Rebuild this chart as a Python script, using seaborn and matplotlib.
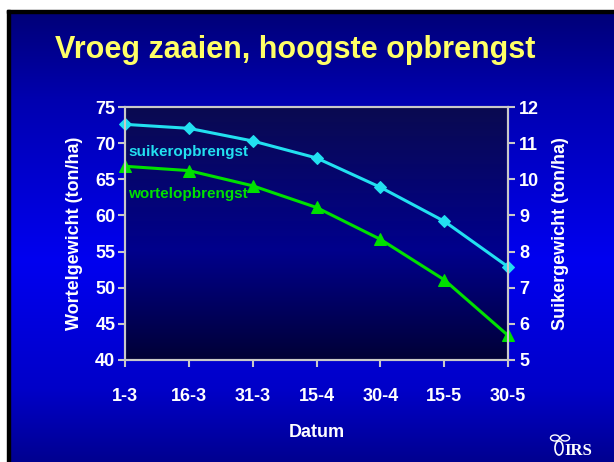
import numpy as np
import pandas as pd
import matplotlib
matplotlib.use("Agg")
import matplotlib.pyplot as plt
import seaborn as sns
from matplotlib.patches import Rectangle, Ellipse
from matplotlib.colors import to_rgb

# ---- data ----
datum = ["1-3", "16-3", "31-3", "15-4", "30-4", "15-5", "30-5"]
wortel = [66.8, 66.2, 64.1, 61.1, 56.7, 51.1, 43.4]          # left axis, ton/ha
suiker = [11.52, 11.41, 11.06, 10.59, 9.78, 8.84, 7.58]      # right axis, ton/ha
left_ticks = [40, 45, 50, 55, 60, 65, 70, 75]
right_ticks = [5, 6, 7, 8, 9, 10, 11, 12]

df = pd.DataFrame({"pos": range(len(datum)), "datum": datum,
                   "wortel": wortel, "suiker": suiker})

sns.set_theme(style="white")
plt.rcParams['font.family'] = ['Liberation Sans', 'DejaVu Sans']
plt.rcParams['font.weight'] = 'bold'

W, H = 614, 462
fig = plt.figure(figsize=(W / 100, H / 100), dpi=100)
fig.patch.set_facecolor('white')

bg = fig.add_axes([0, 0, 1, 1])
bg.set_xlim(0, W)
bg.set_ylim(H, 0)
bg.axis('off')


def vgrad(ax, x0, x1, y0, y1, stops):
    ys = np.linspace(y0, y1, 300)
    sy = [s[0] for s in stops]
    cols = np.array([to_rgb(s[1]) for s in stops])
    arr = np.stack([np.interp(ys, sy, cols[:, i]) for i in range(3)], axis=-1)
    arr = arr[:, None, :]
    ax.imshow(arr, extent=(x0, x1, y1, y0), aspect='auto',
              interpolation='bilinear', origin='upper', zorder=0)


# slide background
vgrad(bg, 10, W, 13, H, [(13, '#000078'), (100, '#0000B0'), (260, '#0000F0'),
                         (390, '#0000C8'), (462, '#000090')])
# black frame bars
bg.add_patch(Rectangle((7, 10), W - 7, 3, color='black', zorder=2))
bg.add_patch(Rectangle((7, 10), 3, H - 10, color='black', zorder=2))
# plot area background
vgrad(bg, 125, 508, 107, 360, [(107, '#0A0A50'), (250, '#00008C'), (360, '#000036')])
bg.set_xlim(0, W)
bg.set_ylim(H, 0)

# IRS logo (simplified)
bg.add_patch(Ellipse((559, 448), 8, 14, fill=False, ec='white', lw=1.2, zorder=3))
bg.add_patch(Ellipse((555, 438), 9, 6, fill=False, ec='white', lw=1.0, zorder=3))
bg.add_patch(Ellipse((565, 438), 9, 6, fill=False, ec='white', lw=1.0, zorder=3))
fig.text(564 / W, 1 - 455 / H, "IRS", family=['Liberation Serif', 'DejaVu Serif'],
         fontsize=12, fontweight='bold', color='white', ha='left', va='baseline')

# ---- main axes ----
ax = fig.add_axes([125 / W, 1 - 360 / H, 383 / W, 253 / H])
ax.patch.set_visible(False)
green = '#00E000'
cyan = '#22E0F0'
sns.lineplot(data=df, x="pos", y="wortel", ax=ax, color=green, marker='^',
             markersize=8, markeredgecolor=green, linewidth=2.2, clip_on=False)
ax2 = ax.twinx()
ax2.patch.set_visible(False)
sns.lineplot(data=df, x="pos", y="suiker", ax=ax2, color=cyan, marker='D',
             markersize=6, markeredgecolor=cyan, linewidth=2.2, clip_on=False)

ax.set_xlim(0, len(datum) - 1)
ax.set_ylim(left_ticks[0], left_ticks[-1])
ax2.set_ylim(right_ticks[0], right_ticks[-1])
ax.set_yticks(left_ticks)
ax2.set_yticks(right_ticks)
ax.set_xticks(df["pos"])
ax.set_xticklabels(datum)
ax.grid(False)
ax2.grid(False)

spc = '#C8C8C8'
for a in (ax, ax2):
    for s in a.spines.values():
        s.set_color(spc)
        s.set_linewidth(1.5)
    a.tick_params(direction='out', length=5, width=1.5, color=spc,
                  labelcolor='white', labelsize=13)
ax.tick_params(axis='y', pad=2, left=True)
ax.tick_params(axis='x', pad=15, bottom=True)
ax2.tick_params(axis='y', pad=3, right=True)
for lab in ax.get_xticklabels() + ax.get_yticklabels() + ax2.get_yticklabels():
    lab.set_fontweight('bold')

ax.set_ylabel('Wortelgewicht (ton/ha)', color='white', fontsize=13,
              fontweight='bold', labelpad=9)
ax2.set_ylabel('Suikergewicht (ton/ha)', color='white', fontsize=13,
               fontweight='bold', labelpad=9)
ax.set_xlabel('Datum', color='white', fontsize=13, fontweight='bold', labelpad=14)

ax.text(0.008, 0.822, 'suikeropbrengst', transform=ax.transAxes, color=cyan,
        fontsize=11, fontweight='bold', ha='left', va='center')
ax.text(0.008, 0.656, 'wortelopbrengst', transform=ax.transAxes, color=green,
        fontsize=11, fontweight='bold', ha='left', va='center')

fig.text(295 / W, 1 - 50 / H, 'Vroeg zaaien, hoogste opbrengst', color='#FFFF66',
         fontsize=22, fontweight='bold', ha='center', va='center')

fig.savefig('out.png', dpi=100)
